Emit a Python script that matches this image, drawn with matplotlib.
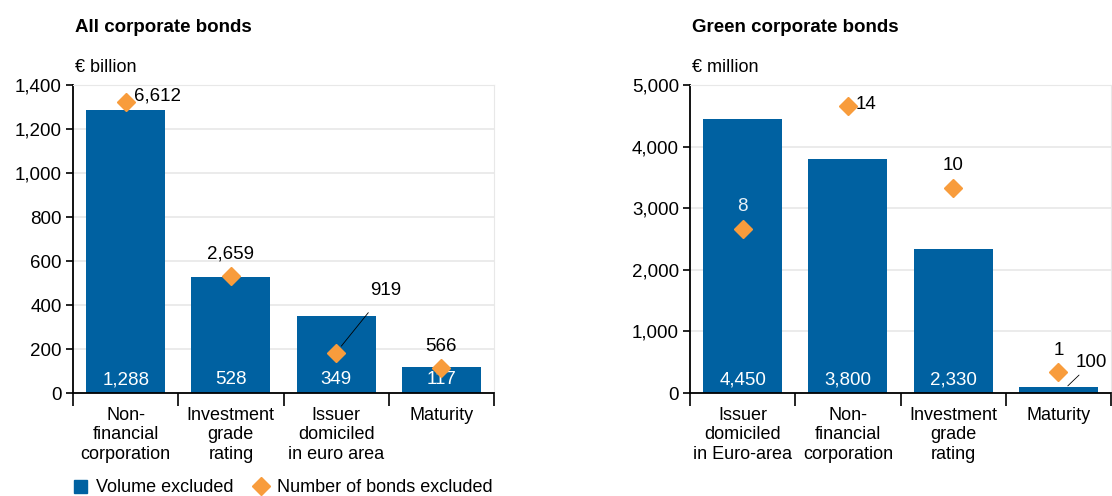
import matplotlib
matplotlib.use("Agg")
import matplotlib.pyplot as plt
from matplotlib.lines import Line2D
from matplotlib.patches import Patch
import numpy as np

plt.rcParams["font.family"] = ["Liberation Sans", "DejaVu Sans"]

# All corporate bonds
all_cats = ["Non-\nfinancial\ncorporation", "Investment\ngrade\nrating",
            "Issuer\ndomiciled\nin euro area", "Maturity"]
all_volume = [1288, 528, 349, 117]          # EUR billion
all_count = [6612, 2659, 919, 566]          # number of bonds

# Green corporate bonds
green_cats = ["Issuer\ndomiciled\nin Euro-area", "Non-\nfinancial\ncorporation",
              "Investment\ngrade\nrating", "Maturity"]
green_volume = [4450, 3800, 2330, 100]      # EUR million
green_count = [8, 14, 10, 1]

BLUE = "#0061a1"
ORANGE = "#f89c3c"
GRID = "#e8e8e8"
W, H = 1112, 496
FS = 13


def fmt(v):
    return f"{v:,}"


def setup(ax, cats, ymax, step):
    x = np.arange(len(cats))
    ax.set_xlim(-0.5, len(cats) - 0.5)
    ax.set_ylim(0, ymax)
    ax.set_yticks(np.arange(0, ymax + 1, step))
    ax.set_yticklabels([fmt(v) for v in np.arange(0, ymax + 1, step)], fontsize=FS + 0.5)
    ax.set_xticks(x)
    ax.set_xticklabels(cats, fontsize=FS, linespacing=1.2)
    ax.set_xticks(np.arange(-0.5, len(cats)), minor=True)
    ax.tick_params(axis="x", which="major", length=0, pad=10)
    ax.tick_params(axis="x", which="minor", length=9, width=1.2, color="black")
    ax.tick_params(axis="y", length=5, width=1.2, pad=3)
    ax.grid(axis="y", color=GRID, linewidth=1.2)
    ax.set_axisbelow(True)
    for s in ["top", "right"]:
        ax.spines[s].set_color(GRID)
    for s in ["left", "bottom"]:
        ax.spines[s].set_linewidth(1.3)
    return x


fig = plt.figure(figsize=(W / 100, H / 100), dpi=100)

# ---- left panel
ax1 = fig.add_axes([73 / W, 1 - 393 / H, 421 / W, 308 / H])
x = setup(ax1, all_cats, 1400, 200)
ax1.bar(x, all_volume, width=0.75, color=BLUE)
for xi, v in zip(x, all_volume):
    ax1.annotate(fmt(v), (xi, 0), xytext=(0, 13), textcoords="offset pixels",
                 ha="center", va="center", color="white", fontsize=FS + 0.5)
ax1b = ax1.twinx()
ax1b.set_ylim(0, 7000)
ax1b.axis("off")
ax1b.plot(x, all_count, "D", color=ORANGE, markersize=9, linestyle="none")
offs = [(8, 6, "left"), (0, 22, "center"), (50, 62, "center"), (0, 22, "center")]
for xi, v, (dx, dy, ha) in zip(x, all_count, offs):
    if dx == 50:
        ax1b.annotate(fmt(v), (xi, v), xytext=(dx, dy), textcoords="offset pixels",
                      ha=ha, va="center", fontsize=FS + 0.5,
                      arrowprops=dict(arrowstyle="-", color="black", lw=0.6,
                                      shrinkA=10, shrinkB=6))
    else:
        ax1b.annotate(fmt(v), (xi, v), xytext=(dx, dy), textcoords="offset pixels",
                      ha=ha, va="center", fontsize=FS + 0.5)

# ---- right panel
ax2 = fig.add_axes([690 / W, 1 - 393 / H, 421 / W, 308 / H])
x = setup(ax2, green_cats, 5000, 1000)
ax2.bar(x, green_volume, width=0.75, color=BLUE)
for xi, v in zip(x[:3], green_volume[:3]):
    ax2.annotate(fmt(v), (xi, 0), xytext=(0, 13), textcoords="offset pixels",
                 ha="center", va="center", color="white", fontsize=FS + 0.5)
ax2.annotate(fmt(green_volume[3]), (x[3] + 0.08, green_volume[3]), xytext=(25, 24),
             textcoords="offset pixels", ha="center", va="center", fontsize=FS + 0.5,
             arrowprops=dict(arrowstyle="-", color="black", lw=0.6,
                             shrinkA=1, shrinkB=1))
ax2b = ax2.twinx()
ax2b.set_ylim(0, 15)
ax2b.axis("off")
ax2b.plot(x, green_count, "D", color=ORANGE, markersize=9, linestyle="none")
offs = [(0, 22, "center", "#e8f1f8"), (8, 1, "left", "black"),
        (0, 22, "center", "black"), (0, 22, "center", "black")]
for xi, v, (dx, dy, ha, c) in zip(x, green_count, offs):
    ax2b.annotate(fmt(v), (xi, v), xytext=(dx, dy), textcoords="offset pixels",
                  ha=ha, va="center", fontsize=FS + 0.5, color=c)

# ---- titles and units
fig.text(75 / W, 1 - 28 / H, "All corporate bonds", fontsize=13.5,
         fontweight="bold", va="center")
fig.text(75 / W, 1 - 68 / H, "€ billion", fontsize=13, va="center")
fig.text(692 / W, 1 - 28 / H, "Green corporate bonds", fontsize=13.5,
         fontweight="bold", va="center")
fig.text(692 / W, 1 - 68 / H, "€ million", fontsize=13, va="center")

# ---- legend
handles = [Patch(color=BLUE, label="Volume excluded"),
           Line2D([], [], marker="D", color=ORANGE, linestyle="none",
                  markersize=9, label="Number of bonds excluded")]
fig.legend(handles=handles, loc="center left", bbox_to_anchor=(58 / W, 1 - 488 / H),
           ncol=2, frameon=False, fontsize=FS, handlelength=0.7, handletextpad=0.5,
           columnspacing=1.2)

fig.savefig("out.png", dpi=100)
